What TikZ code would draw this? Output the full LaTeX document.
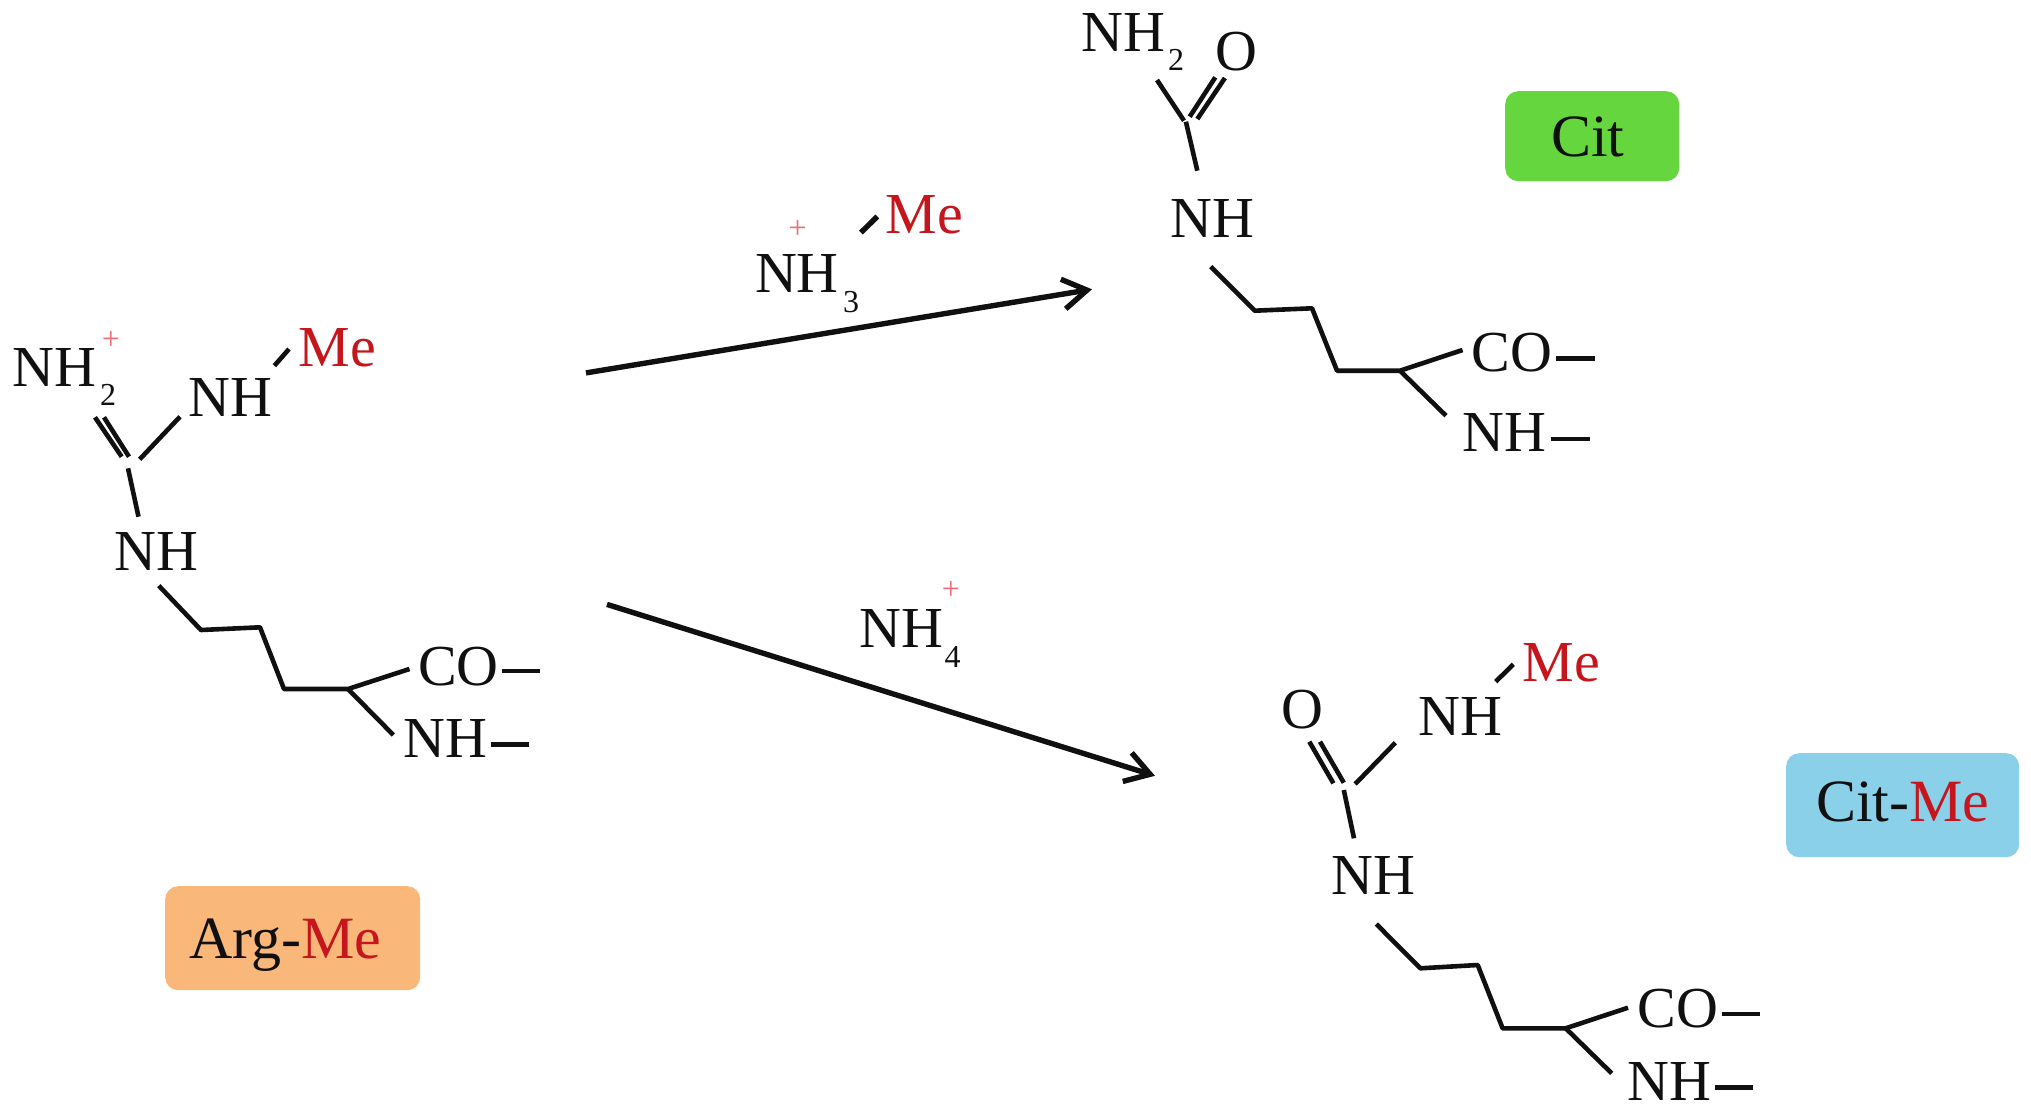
\documentclass[tikz,border=0pt]{standalone}
\usepackage{fontspec}
\setmainfont{Liberation Serif}
\usetikzlibrary{arrows.meta}
\definecolor{mered}{HTML}{C4161C}
\definecolor{plusred}{HTML}{EE6B78}
\definecolor{inkblack}{HTML}{101010}
\definecolor{tagorange}{HTML}{FAB77A}
\definecolor{taggreen}{HTML}{66D63E}
\definecolor{tagblue}{HTML}{8AD0E8}
\tikzset{
  chem/.style={inner sep=0pt,anchor=base west,text=inkblack,font=\fontsize{58}{60}\selectfont},
  redme/.style={chem,text=mered},
  tagtext/.style={chem,font=\fontsize{60}{62}\selectfont},
  subs/.style={inner sep=0pt,anchor=base west,text=inkblack,font=\fontsize{32}{34}\selectfont},
  plus/.style={inner sep=0pt,anchor=center,text=plusred,font=\fontsize{32}{34}\selectfont},
  bond/.style={draw=inkblack,line width=4.6pt,line join=round},
  rxn/.style={draw=inkblack,line width=5.4pt,-{Straight Barb[length=24pt,width=30pt,line width=5.4pt]}},
  tag/.style={rounded corners=13pt,inner sep=0pt,draw=none,anchor=north west},
}
\begin{document}
\begin{tikzpicture}[x=1pt,y=-1pt]
\useasboundingbox[fill=white] (0,0) rectangle (2031,1114);

% ---------- tags ----------
\node[tag,fill=tagorange,minimum width=255pt,minimum height=104pt] (argbox) at (165,886) {};
\node[tag,fill=taggreen,minimum width=174pt,minimum height=90pt] (citbox) at (1505,91) {};
\node[tag,fill=tagblue,minimum width=233pt,minimum height=104pt] (cmbox) at (1786,753) {};
\node[tagtext] (argtag) at (189,958) {Arg-\textcolor{mered}{Me}};
\node[tagtext] (cittag) at (1551,156) {Cit};
\node[tagtext] (cmtag) at (1816,821) {Cit-\textcolor{mered}{Me}};

% ---------- Arg-Me ----------
\node[chem] (anh2) at (12.6,386) {NH};
\node[subs] (anh2s) at (100,405) {2};
\node[plus] (anh2p) at (111,340) {+};
\node[chem] (anhu) at (188.7,416.7) {NH};
\node[redme] (ame) at (298.5,366) {Me};
\node[chem] (anhl) at (114,570) {NH};
\node[chem] (aco) at (418,685) {CO};
\node[chem] (anhb) at (403.7,757.7) {NH};
\coordinate (a1) at (95,417.3); \coordinate (a2) at (121.7,456.7);
\coordinate (a3) at (104,417.3); \coordinate (a4) at (129,456.7);
\coordinate (a5) at (180,416.7); \coordinate (a6) at (139.7,459.3);
\coordinate (a7) at (128,468.3); \coordinate (a8) at (138.5,516.7);
\coordinate (a9) at (289,349); \coordinate (a10) at (274.4,365.7);
\coordinate (ac1) at (158.8,585.7); \coordinate (ac2) at (201,630);
\coordinate (ac3) at (260,627.3); \coordinate (ac4) at (284,689);
\coordinate (ac5) at (348,689); \coordinate (ac6) at (409.5,669);
\coordinate (ac7) at (393.4,735);
\coordinate (ad1) at (502,671); \coordinate (ad2) at (540,671);
\coordinate (ad3) at (490.6,744.3); \coordinate (ad4) at (529,744.3);
\draw[bond] (a1) -- (a2); \draw[bond] (a3) -- (a4);
\draw[bond] (a5) -- (a6); \draw[bond] (a7) -- (a8);
\draw[bond] (a9) -- (a10);
\draw[bond] (ac1) -- (ac2) -- (ac3) -- (ac4) -- (ac5) -- (ac6);
\draw[bond] (ac5) -- (ac7);
\draw[bond] (ad1) -- (ad2); \draw[bond] (ad3) -- (ad4);

% ---------- Cit ----------
\node[chem] (cnh2) at (1081.4,51.7) {NH};
\node[subs] (cnh2s) at (1167.9,70.7) {2};
\node[chem] (co) at (1215.3,70) {O};
\node[chem] (cnh) at (1170.5,237.3) {NH};
\node[chem] (cco) at (1471.7,371.7) {CO};
\node[chem] (cnhb) at (1462,451.7) {NH};
\coordinate (c1) at (1215.3,77.3); \coordinate (c2) at (1189.7,116.7);
\coordinate (c3) at (1224.9,78); \coordinate (c4) at (1197.3,119);
\coordinate (c5) at (1157,80); \coordinate (c6) at (1184,120.7);
\coordinate (c7) at (1185.9,121.7); \coordinate (c8) at (1197.3,170.7);
\coordinate (cc1) at (1210.7,266.7); \coordinate (cc2) at (1254.7,310.7);
\coordinate (cc3) at (1312,308.3); \coordinate (cc4) at (1337,370.7);
\coordinate (cc5) at (1400,370.7); \coordinate (cc6) at (1462.5,350);
\coordinate (cc7) at (1446,415.7);
\coordinate (cd1) at (1556,358.3); \coordinate (cd2) at (1595,358.3);
\coordinate (cd3) at (1550.6,439); \coordinate (cd4) at (1589.6,439);
\draw[bond] (c1) -- (c2); \draw[bond] (c3) -- (c4);
\draw[bond] (c5) -- (c6); \draw[bond] (c7) -- (c8);
\draw[bond] (cc1) -- (cc2) -- (cc3) -- (cc4) -- (cc5) -- (cc6);
\draw[bond] (cc5) -- (cc7);
\draw[bond] (cd1) -- (cd2); \draw[bond] (cd3) -- (cd4);

% ---------- Cit-Me ----------
\node[redme] (mme) at (1522.5,681.7) {Me};
\node[chem] (mnhu) at (1418.4,735) {NH};
\node[chem] (mo) at (1281.4,728.3) {O};
\node[chem] (mnh) at (1331.5,894) {NH};
\node[chem] (mco) at (1637.3,1027.3) {CO};
\node[chem] (mnhb) at (1627,1100.7) {NH};
\coordinate (m1) at (1309.3,741.7); \coordinate (m2) at (1333.4,783.3);
\coordinate (m3) at (1320,741.7); \coordinate (m4) at (1343.8,782.7);
\coordinate (m5) at (1395.4,742.7); \coordinate (m6) at (1355.2,784);
\coordinate (m7) at (1343.8,790); \coordinate (m8) at (1354,838.3);
\coordinate (m9) at (1513.3,664.3); \coordinate (m10) at (1495.7,681.7);
\coordinate (mc1) at (1376.3,924); \coordinate (mc2) at (1420.3,968.3);
\coordinate (mc3) at (1477.7,965); \coordinate (mc4) at (1502.6,1028.3);
\coordinate (mc5) at (1565.7,1028.3); \coordinate (mc6) at (1628,1007.7);
\coordinate (mc7) at (1611.7,1073.3);
\coordinate (md1) at (1721.5,1014); \coordinate (md2) at (1759.8,1014);
\coordinate (md3) at (1715,1087.3); \coordinate (md4) at (1753.2,1087.3);
\draw[bond] (m1) -- (m2); \draw[bond] (m3) -- (m4);
\draw[bond] (m5) -- (m6); \draw[bond] (m7) -- (m8);
\draw[bond] (m9) -- (m10);
\draw[bond] (mc1) -- (mc2) -- (mc3) -- (mc4) -- (mc5) -- (mc6);
\draw[bond] (mc5) -- (mc7);
\draw[bond] (md1) -- (md2); \draw[bond] (md3) -- (md4);

% ---------- leaving groups ----------
\node[redme] (rme) at (885.7,233) {Me};
\node[plus] (rp1) at (797.7,229.7) {+};
\node[chem] (rnh3) at (754.8,292) {NH};
\node[subs] (rnh3s) at (843,312.8) {3};
\coordinate (r1) at (877.3,216.5); \coordinate (r2) at (860.9,232.6);
\draw[bond,line width=5.4pt] (r1) -- (r2);
\node[chem] (rnh4) at (859,647) {NH};
\node[subs] (rnh4s) at (944.3,667) {4};
\node[plus] (rp2) at (950.8,590.6) {+};

% ---------- arrows ----------
\coordinate (s1) at (586,372.9); \coordinate (t1) at (1092,289.3);
\coordinate (s2) at (607,604.4); \coordinate (t2) at (1155,775.8);
\draw[rxn] (s1) -- (t1);
\draw[rxn] (s2) -- (t2);
\end{tikzpicture}
\end{document}
